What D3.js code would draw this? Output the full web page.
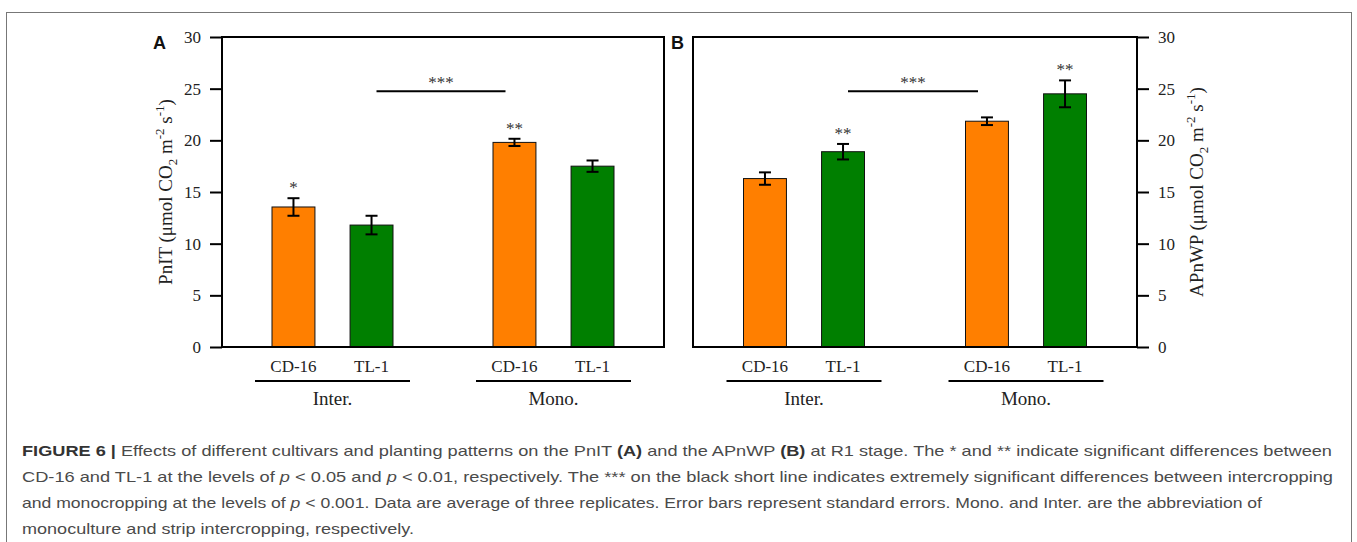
<!DOCTYPE html>
<html>
<head>
<meta charset="utf-8">
<script src="https://cdn.jsdelivr.net/npm/d3@7"></script>
<style>
  body { margin: 0; background: #fff; }
  svg { display: block; }
</style>
</head>
<body>
<svg id="fig" width="1357" height="542"></svg>
<script>
// Planting patterns and cultivars (bars ordered pattern by pattern)
const groups = ["Inter.", "Mono."];
const cultivars = ["CD-16", "TL-1"];
const yTicks = [0, 5, 10, 15, 20, 25, 30];

// Panel A: PnIT, mean and standard error
const pnitMean = [13.55, 11.8, 19.8, 17.5];
const pnitSE = [0.85, 0.9, 0.35, 0.55];
const pnitStars = ["*", "", "**", ""];

// Panel B: APnWP, mean and standard error
const apnwpMean = [16.3, 18.9, 21.85, 24.5];
const apnwpSE = [0.6, 0.75, 0.37, 1.3];
const apnwpStars = ["", "**", "", "**"];

// Inter. vs Mono. comparison bar
const patternLineValue = 24.75;
const patternLineLabel = "***";

const cultivarColors = ["#ff7f00", "#007f00"];

const captionLines = [
  [{t: "FIGURE 6 |", b: true}, {t: " Effects of different cultivars and planting patterns on the PnIT "}, {t: "(A)", b: true}, {t: " and the APnWP "}, {t: "(B)", b: true}, {t: " at R1 stage. The * and ** indicate significant differences between"}],
  [{t: "CD-16 and TL-1 at the levels of "}, {t: "p", i: true}, {t: " < 0.05 and "}, {t: "p", i: true}, {t: " < 0.01, respectively. The *** on the black short line indicates extremely significant differences between intercropping"}],
  [{t: "and monocropping at the levels of "}, {t: "p", i: true}, {t: " < 0.001. Data are average of three replicates. Error bars represent standard errors. Mono. and Inter. are the abbreviation of"}],
  [{t: "monoculture and strip intercropping, respectively."}]
];
const captionWidths = [1310, 1311, 1240, 392];

const svg = d3.select("#fig");
const SERIF = "'Liberation Serif', 'Times New Roman', serif";
const SANS = "'Liberation Sans', Arial, sans-serif";

// outer figure frame
svg.append("rect")
  .attr("x", 6.5).attr("y", 12.5).attr("width", 1345).attr("height", 560)
  .attr("fill", "none").attr("stroke", "#777").attr("stroke-width", 1);

const plotTop = 37, plotBottom = 347;
const y = d3.scaleLinear().domain([0, 30]).range([plotBottom, plotTop]);

function drawPanel(opt) {
  const g = svg.append("g");
  const x0 = d3.scalePoint().domain(groups).range([opt.left, opt.right]).padding(0.5);
  const x1 = d3.scaleBand().domain(cultivars).range([-60.5, 60.5]).paddingInner(0.45);

  const rows = [];
  groups.forEach((grp, gi) => cultivars.forEach((cv, ci) => {
    const k = gi * 2 + ci;
    rows.push({grp, cv, ci, v: opt.mean[k], se: opt.se[k], star: opt.stars[k]});
  }));
  const cx = d => x0(d.grp) + x1(d.cv) + x1.bandwidth() / 2;

  // bars
  g.selectAll("rect.bar").data(rows).join("rect")
    .attr("class", "bar")
    .attr("x", d => x0(d.grp) + x1(d.cv))
    .attr("width", x1.bandwidth())
    .attr("y", d => y(d.v))
    .attr("height", d => y(0) - y(d.v))
    .attr("fill", d => cultivarColors[d.ci])
    .attr("stroke", "#111").attr("stroke-width", 1);

  // error bars
  const eb = g.selectAll("g.err").data(rows).join("g").attr("class", "err")
    .attr("stroke", "#000").attr("stroke-width", 2);
  eb.append("line").attr("x1", cx).attr("x2", cx)
    .attr("y1", d => y(d.v - d.se)).attr("y2", d => y(d.v + d.se));
  eb.append("line").attr("x1", d => cx(d) - 6).attr("x2", d => cx(d) + 6)
    .attr("y1", d => y(d.v + d.se)).attr("y2", d => y(d.v + d.se));
  eb.append("line").attr("x1", d => cx(d) - 6).attr("x2", d => cx(d) + 6)
    .attr("y1", d => y(d.v - d.se)).attr("y2", d => y(d.v - d.se));

  // significance between cultivars
  g.selectAll("text.star").data(rows.filter(d => d.star)).join("text")
    .attr("class", "star")
    .attr("x", cx).attr("y", d => y(d.v + d.se) - 5)
    .attr("text-anchor", "middle")
    .attr("font-family", SERIF).attr("font-size", 17).attr("fill", "#333")
    .text(d => d.star);

  // plot frame
  g.append("rect")
    .attr("x", opt.left).attr("y", plotTop)
    .attr("width", opt.right - opt.left).attr("height", plotBottom - plotTop)
    .attr("fill", "none").attr("stroke", "#000").attr("stroke-width", 2);

  // value axis
  const axis = (opt.side === "left" ? d3.axisLeft(y) : d3.axisRight(y))
    .tickValues(yTicks).tickSize(12).tickPadding(9).tickFormat(d3.format("d"));
  const ax = g.append("g")
    .attr("transform", `translate(${opt.side === "left" ? opt.left : opt.right},0)`)
    .call(axis);
  ax.select(".domain").remove();
  ax.selectAll(".tick line").attr("stroke", "#000").attr("stroke-width", 2);
  ax.selectAll(".tick text").attr("font-family", SERIF).attr("font-size", 17).attr("fill", "#222");

  // pattern comparison line
  const lx1 = x0("Inter.") + 44, lx2 = x0("Mono.") - 48;
  g.append("line").attr("x1", lx1).attr("x2", lx2)
    .attr("y1", y(patternLineValue)).attr("y2", y(patternLineValue))
    .attr("stroke", "#000").attr("stroke-width", 2);
  g.append("text").attr("x", (lx1 + lx2) / 2).attr("y", y(patternLineValue) - 3)
    .attr("text-anchor", "middle")
    .attr("font-family", SERIF).attr("font-size", 17).attr("fill", "#333")
    .text(patternLineLabel);

  // cultivar labels
  g.selectAll("text.cv").data(rows).join("text")
    .attr("class", "cv")
    .attr("x", cx).attr("y", 372)
    .attr("text-anchor", "middle")
    .attr("font-family", SERIF).attr("font-size", 17).attr("fill", "#222")
    .text(d => d.cv);

  // group underlines and labels
  g.selectAll("line.grp").data(groups).join("line")
    .attr("class", "grp")
    .attr("x1", d => x0(d) - 77.5).attr("x2", d => x0(d) + 77.5)
    .attr("y1", 381).attr("y2", 381)
    .attr("stroke", "#000").attr("stroke-width", 2);
  g.selectAll("text.grp").data(groups).join("text")
    .attr("class", "grp")
    .attr("x", d => x0(d)).attr("y", 405)
    .attr("text-anchor", "middle")
    .attr("font-family", SERIF).attr("font-size", 19).attr("fill", "#222")
    .text(d => d);

  // axis title with sub/superscripts
  const title = g.append("text")
    .attr("transform", `translate(${opt.titleX},${(plotTop + plotBottom) / 2}) rotate(-90)`)
    .attr("text-anchor", "middle")
    .attr("font-family", SERIF).attr("font-size", 19).attr("fill", "#222");
  title.append("tspan").text(opt.titleName + " (\u03bcmol CO");
  title.append("tspan").attr("font-size", 13).attr("dy", 5).text("2");
  title.append("tspan").attr("dy", -5).text(" m");
  title.append("tspan").attr("font-size", 13).attr("dy", -8).text("-2");
  title.append("tspan").attr("dy", 8).text(" s");
  title.append("tspan").attr("font-size", 13).attr("dy", -8).text("-1");
  title.append("tspan").attr("dy", 8).text(")");

  // panel letter
  g.append("text").attr("x", opt.letterX).attr("y", 49)
    .attr("font-family", SANS).attr("font-weight", "bold").attr("font-size", 18)
    .attr("fill", "#111").text(opt.letter);
}

drawPanel({left: 222, right: 664, side: "left", mean: pnitMean, se: pnitSE, stars: pnitStars,
  titleName: "PnIT", titleX: 172, letter: "A", letterX: 153});
drawPanel({left: 693, right: 1137, side: "right", mean: apnwpMean, se: apnwpSE, stars: apnwpStars,
  titleName: "APnWP", titleX: 1203, letter: "B", letterX: 671});

// caption
const cap = svg.append("g").attr("font-family", SANS).attr("font-size", 15).attr("fill", "#4a4a4a");
captionLines.forEach((parts, i) => {
  const t = cap.append("text").attr("x", 22).attr("y", 456 + i * 26)
    .attr("textLength", captionWidths[i]).attr("lengthAdjust", "spacingAndGlyphs");
  parts.forEach(p => {
    const s = t.append("tspan").text(p.t);
    if (p.b) s.attr("font-weight", "bold").attr("fill", "#333");
    if (p.i) s.attr("font-style", "italic");
  });
});
</script>
</body>
</html>
